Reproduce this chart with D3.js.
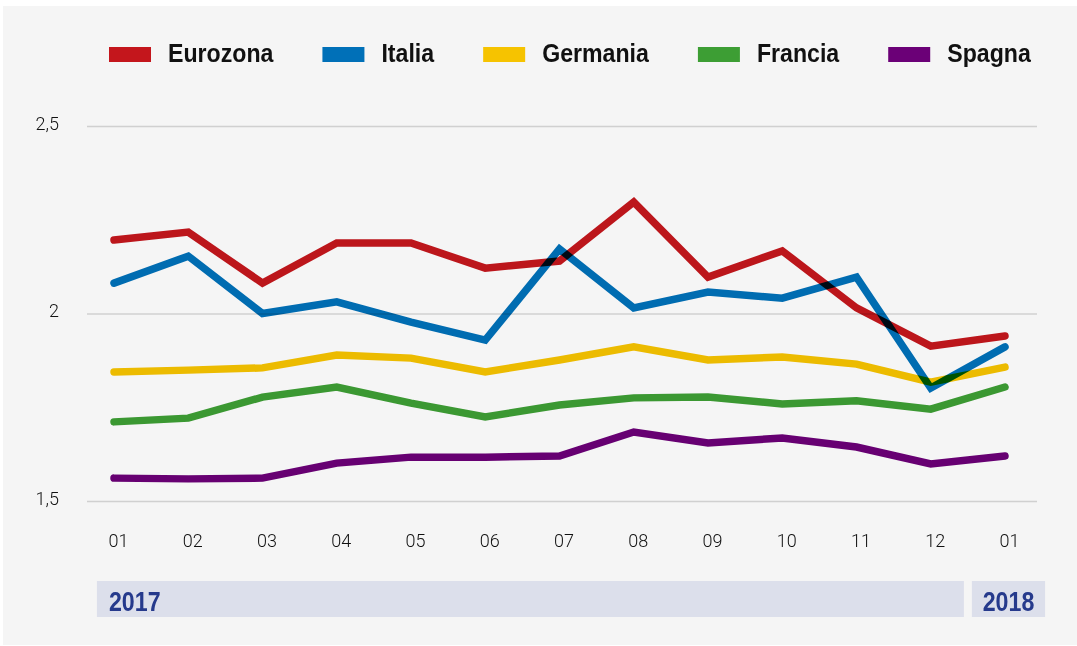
<!DOCTYPE html>
<html>
<head>
<meta charset="utf-8">
<script src="https://cdn.jsdelivr.net/npm/d3@7"></script>
<style>
  html, body { margin: 0; padding: 0; background: #ffffff; }
  svg { display: block; }
  .series { mix-blend-mode: multiply; }
</style>
</head>
<body>
<svg id="chart" width="1077" height="646"></svg>
<script>
// ---- data ----
const months = ["01","02","03","04","05","06","07","08","09","10","11","12","01"];
const years = ["2017", "2018"];
const seriesNames = ["Eurozona", "Italia", "Germania", "Francia", "Spagna"];
const eurozona = [2.196, 2.217, 2.081, 2.188, 2.188, 2.121, 2.140, 2.297, 2.097, 2.167, 2.015, 1.913, 1.940];
const italia   = [2.081, 2.153, 2.000, 2.031, 1.977, 1.929, 2.172, 2.015, 2.057, 2.041, 2.097, 1.801, 1.911];
const germania = [1.844, 1.849, 1.855, 1.889, 1.881, 1.844, 1.876, 1.911, 1.876, 1.884, 1.865, 1.817, 1.857];
const francia  = [1.711, 1.721, 1.777, 1.804, 1.761, 1.724, 1.756, 1.775, 1.777, 1.759, 1.767, 1.745, 1.804];
const spagna   = [1.561, 1.559, 1.561, 1.601, 1.617, 1.617, 1.620, 1.684, 1.655, 1.668, 1.644, 1.599, 1.620];
const yTicks = [1.5, 2, 2.5];

const seriesValues = [eurozona, italia, germania, francia, spagna];
const colors = ["#c4161c", "#0070b8", "#f6c300", "#3d9e34", "#6b0077"];

const boldFont = "'Liberation Sans', Arial, sans-serif";
const condense = 0.89;

const svg = d3.select("#chart");

// panel
svg.append("rect").attr("x", 3).attr("y", 6).attr("width", 1074).attr("height", 639).attr("fill", "#f5f5f5");

const x = d3.scaleLinear().domain([0, months.length - 1]).range([114, 1005]);
const y = d3.scaleLinear().domain([1.5, 2.5]).range([501, 126]);
const locale = d3.formatLocale({decimal: ",", thousands: ".", grouping: [3], currency: ["€", ""]});
const fmt = locale.format("~g");

// grid + y labels
const yAxis = d3.axisLeft(y).tickValues(yTicks).tickSize(-(1037 - 87)).tickFormat(fmt);
const gy = svg.append("g").attr("transform", "translate(87,0)").call(yAxis);
gy.select(".domain").remove();
gy.selectAll(".tick line").attr("stroke", "#d0d0d0").attr("stroke-width", 1.3);
gy.selectAll(".tick text")
  .attr("x", -28).attr("y", -3).attr("dy", "0.36em")
  .attr("font-family", "Roboto, 'DejaVu Sans', sans-serif")
  .attr("font-weight", 300).attr("font-size", 18).attr("fill", "#111");

// x labels
const xAxis = d3.axisBottom(x).tickValues(d3.range(months.length)).tickSize(0).tickFormat(i => months[i]);
const gx = svg.append("g").attr("transform", "translate(4,0)").call(xAxis);
gx.select(".domain").remove();
gx.selectAll(".tick text")
  .attr("y", 547).attr("dy", 0)
  .attr("font-family", "Roboto, 'DejaVu Sans', sans-serif")
  .attr("font-weight", 300).attr("font-size", 18).attr("fill", "#111");

// year bars
const step = x(1) - x(0);
const split = (x(11) + x(12)) / 2;
const yearBars = [
  {label: years[0], x0: x(0) - step * 0.23, x1: split - 4, anchor: "start"},
  {label: years[1], x0: split + 4, x1: x(12) + step * 0.54, anchor: "middle"}
];
const yb = svg.append("g");
yearBars.forEach(b => {
  yb.append("rect").attr("x", b.x0).attr("y", 581).attr("width", b.x1 - b.x0).attr("height", 36).attr("fill", "#dcdfeb");
  const tx = b.anchor === "start" ? b.x0 + 12 : (b.x0 + b.x1) / 2;
  yb.append("g").attr("transform", `translate(${tx},611) scale(0.86,1)`)
    .append("text")
    .attr("text-anchor", b.anchor)
    .attr("font-family", boldFont)
    .attr("font-weight", 700).attr("font-size", 27).attr("fill", "#263a8c")
    .text(b.label);
});

// lines
const line = d3.line().x((d, i) => x(i)).y(d => y(d));
svg.append("g").selectAll("path").data(seriesValues).join("path")
  .attr("class", "series")
  .attr("d", line)
  .attr("fill", "none")
  .attr("stroke", (d, i) => colors[i])
  .attr("stroke-width", 7.5)
  .attr("stroke-linecap", "round")
  .attr("stroke-linejoin", "miter");

// legend
const lg = svg.append("g");
let cx = 109;
seriesNames.forEach((name, i) => {
  lg.append("rect").attr("x", cx).attr("y", 47).attr("width", 42).attr("height", 15).attr("fill", colors[i]);
  const t = lg.append("g").attr("transform", `translate(${cx + 59},62) scale(${condense},1)`)
    .append("text")
    .attr("font-family", boldFont)
    .attr("font-weight", 700).attr("font-size", 26).attr("fill", "#111")
    .text(name);
  cx = cx + 59 + t.node().getComputedTextLength() * condense + 49;
});
</script>
</body>
</html>
